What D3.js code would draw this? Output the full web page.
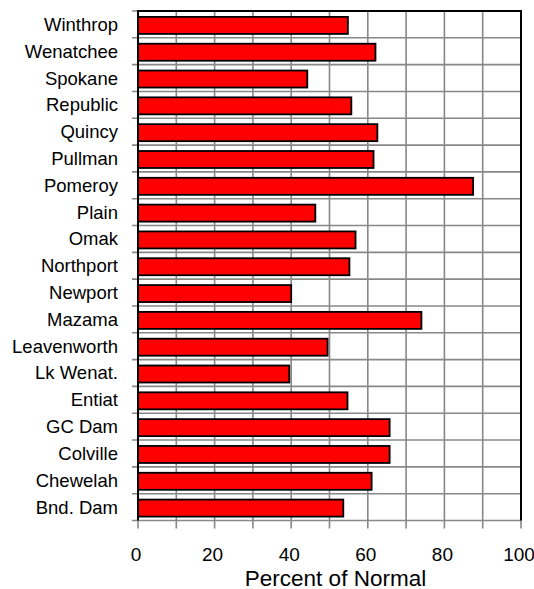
<!DOCTYPE html>
<html>
<head>
<meta charset="utf-8">
<script src="https://cdn.jsdelivr.net/npm/d3@7"></script>
<style>
  body { margin: 0; background: #fff; }
  svg text { font-family: "Liberation Sans", Arial, sans-serif; fill: #000; }
</style>
</head>
<body>
<svg id="chart" width="534" height="589"></svg>
<script>
var stations = ['Winthrop', 'Wenatchee', 'Spokane', 'Republic', 'Quincy', 'Pullman', 'Pomeroy',
    'Plain', 'Omak', 'Northport', 'Newport', 'Mazama', 'Leavenworth', 'Lk Wenat.', 'Entiat',
    'GC Dam', 'Colville', 'Chewelah', 'Bnd. Dam'];

var percentNormal = [54.8, 62, 44.2, 55.7, 62.5, 61.5, 87.5,
    46.3, 56.8, 55.2, 40, 74, 49.5, 39.5, 54.7,
    65.7, 65.7, 61, 53.6];

var xTicks = [0, 20, 40, 60, 80, 100];
var xGrid = d3.range(0, 101, 10);

let svg = d3.select('#chart');
let plotL = 138, plotR = 521, plotT = 11, plotB = 520.5;

let x = d3.scaleLinear().domain([0, 100]).range([plotL, plotR]);
let y = d3.scaleBand().domain(stations).range([plotT, plotB]);

// vertical grid lines, with tick stubs below the plot
svg.append('g').selectAll('line').data(xGrid).enter().append('line')
    .attr('x1', d => x(d)).attr('x2', d => x(d))
    .attr('y1', plotT).attr('y2', plotB + 8)
    .attr('stroke', '#888').attr('stroke-width', 1.6);

// horizontal grid lines at category boundaries, with stubs on the left
let edges = stations.map(s => y(s)).concat([plotB]);
svg.append('g').selectAll('line').data(edges).enter().append('line')
    .attr('x1', plotL - 6).attr('x2', plotR)
    .attr('y1', d => d).attr('y2', d => d)
    .attr('stroke', '#888').attr('stroke-width', 1.6);

// bars
let barH = 17;
svg.append('g').selectAll('rect').data(percentNormal).enter().append('rect')
    .attr('x', x(0))
    .attr('y', (d, i) => y(stations[i]) + (y.bandwidth() - barH) / 2 + 1)
    .attr('width', d => x(d) - x(0))
    .attr('height', barH)
    .attr('fill', '#ff0000')
    .attr('stroke', '#000').attr('stroke-width', 1.8);

// frame: left, top, right
svg.append('path')
    .attr('d', `M${plotL},${plotB} L${plotL},${plotT} L${plotR},${plotT} L${plotR},${plotB}`)
    .attr('fill', 'none').attr('stroke', '#000').attr('stroke-width', 2);

// category labels
svg.append('g').selectAll('text').data(stations).enter().append('text')
    .attr('x', 118)
    .attr('y', d => y(d) + y.bandwidth() / 2)
    .attr('dy', '0.35em')
    .attr('text-anchor', 'end')
    .attr('font-size', 18.5)
    .text(d => d);

// x tick labels
svg.append('g').selectAll('text').data(xTicks).enter().append('text')
    .attr('x', d => x(d) - 2)
    .attr('y', 560.5)
    .attr('text-anchor', 'middle')
    .attr('font-size', 19)
    .text(d => d);

svg.append('text')
    .attr('x', 335.5).attr('y', 585.5)
    .attr('text-anchor', 'middle')
    .attr('font-size', 22.5)
    .text('Percent of Normal');
</script>
</body>
</html>
